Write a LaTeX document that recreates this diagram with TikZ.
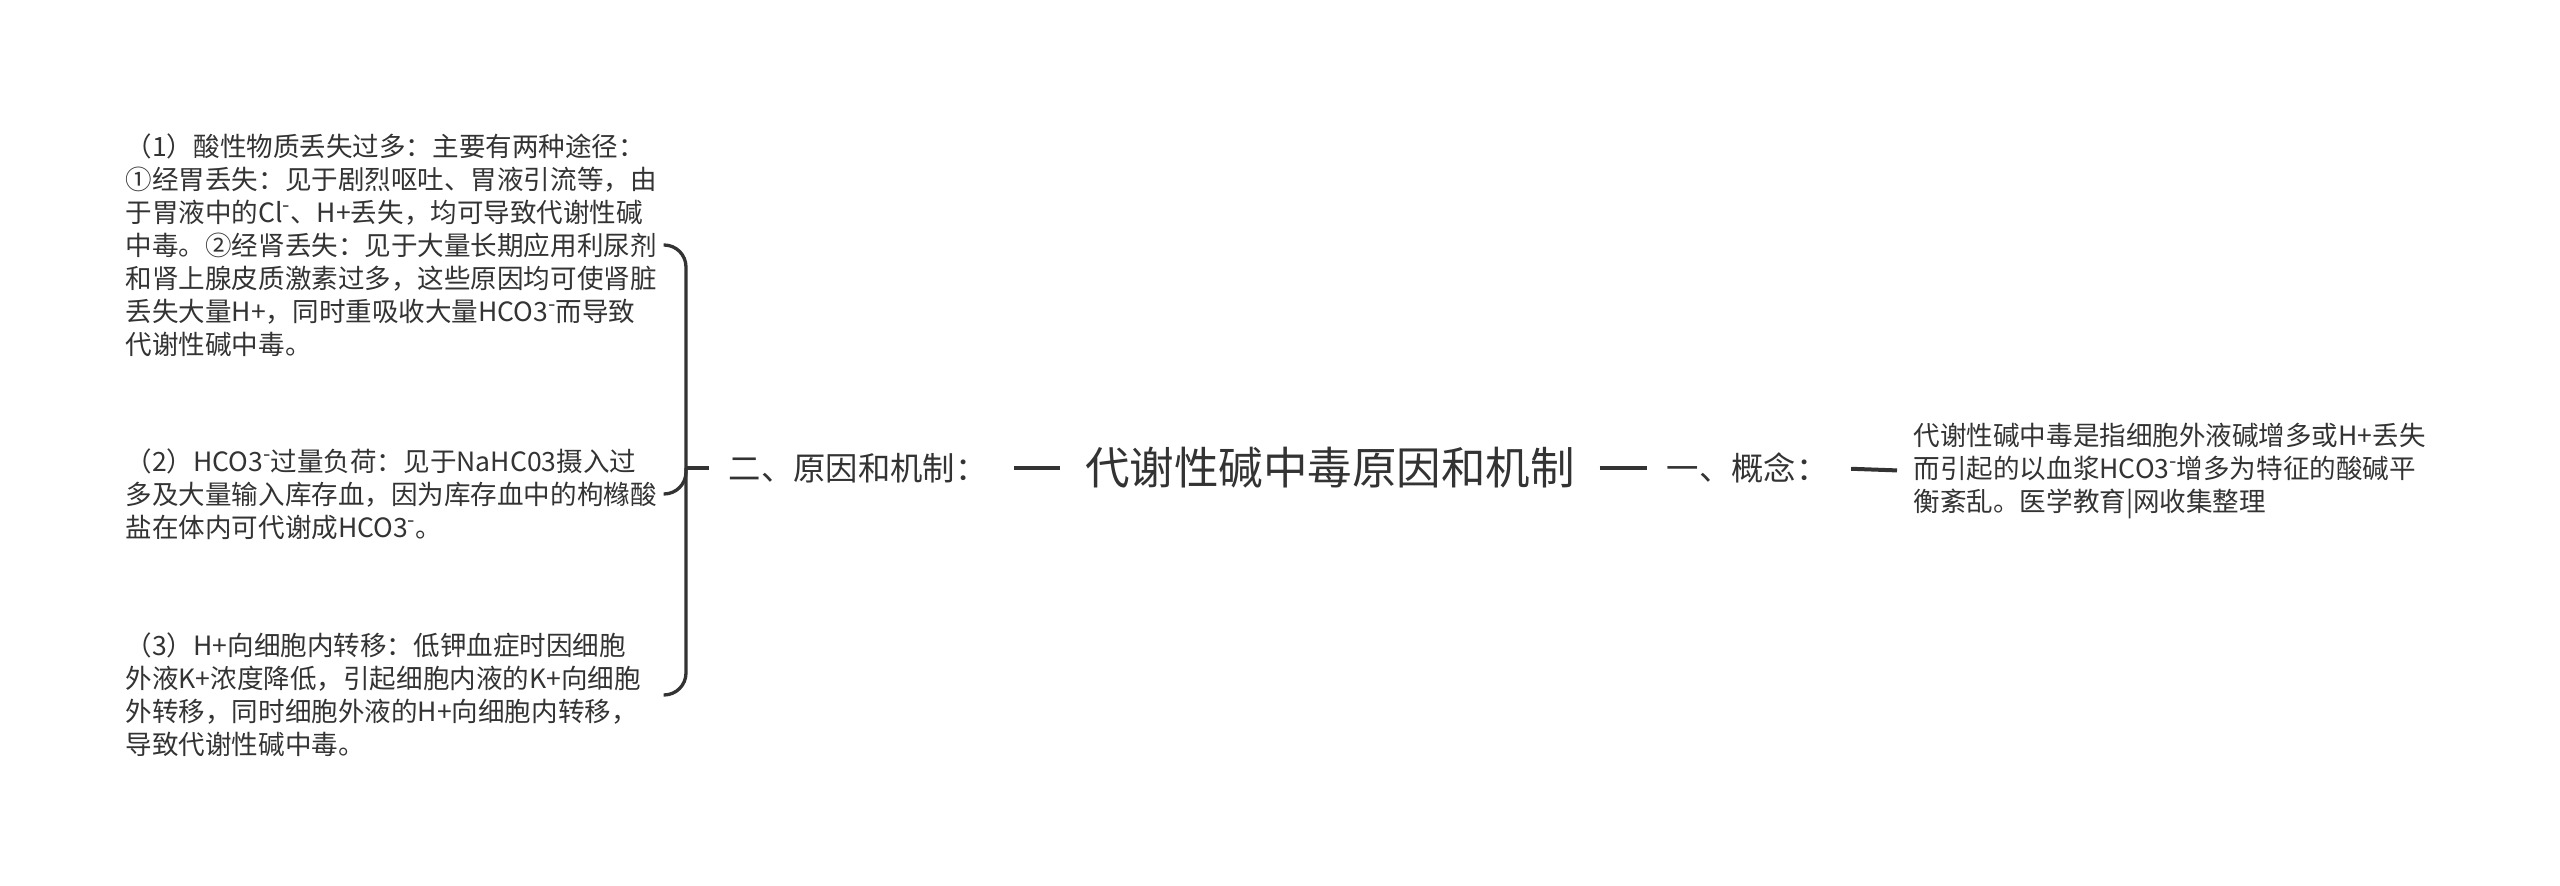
\documentclass[tikz,border=0pt]{standalone}
\usepackage{fontspec}
\setmainfont{Noto Sans CJK SC}
\usepackage{xcolor}
\usetikzlibrary{positioning,calc}
\definecolor{ink}{HTML}{333333}
\newcommand\ionbar{\raisebox{0.36em}{\scalebox{0.8}{-}}}

\begin{document}
\begin{tikzpicture}[x=0.01cm, y=-0.01cm,
    leaf/.style={anchor=west, inner sep=0, text width=5.37cm, align=left, text=ink,
      font=\fontsize{7.55pt}{9.39pt}\selectfont},
    topic/.style={inner sep=0, text=ink, font=\fontsize{9.2pt}{10.5pt}\selectfont},
    brace/.style={draw=ink, line width=0.033cm, rounded corners=0.22cm},
    dashline/.style={draw=ink, line width=0.04cm}]
    \useasboundingbox (0,0) rectangle (2560,886);
    \node [topic, font=\fontsize{12.66pt}{14pt}\selectfont] (main) at (1330,468) {代谢性碱中毒原因和机制}; % root
    \node [topic, anchor=west] (cause) at (728,468) {二、原因和机制：};
    \node [topic, anchor=west] (idea) at (1666,468) {一、概念：};
    \node [leaf] (def) at (1913,471) {代谢性碱中毒是指细胞外液碱增多或H+丢失\\
      而引起的以血浆HCO3\ionbar 增多为特征的酸碱平\\
      衡紊乱。医学教育|网收集整理};
    \node [leaf] (acid) at (125,245) {（1）酸性物质丢失过多：主要有两种途径：\\
      ①经胃丢失：见于剧烈呕吐、胃液引流等，由\\
      于胃液中的Cl\ionbar 、H+丢失，均可导致代谢性碱\\
      中毒。②经肾丢失：见于大量长期应用利尿剂\\
      和肾上腺皮质激素过多，这些原因均可使肾脏\\
      丢失大量H+，同时重吸收大量HCO3\ionbar 而导致\\
      代谢性碱中毒。};
    \node [leaf] (load) at (125,494) {（2）HCO3\ionbar 过量负荷：见于NaHC03摄入过\\
      多及大量输入库存血，因为库存血中的枸橼酸\\
      盐在体内可代谢成HCO3\ionbar 。};
    \node [leaf] (shift) at (125,695) {（3）H+向细胞内转移：低钾血症时因细胞\\
      外液K+浓度降低，引起细胞内液的K+向细胞\\
      外转移，同时细胞外液的H+向细胞内转移，\\
      导致代谢性碱中毒。};
    % connectors
    \coordinate (jn) at (686,468);
    \draw [brace] (acid.east) -| (jn) |- (shift.east);
    \draw [brace] (jn) |- (load.east);
    \draw [brace, shorten >=0.19cm] (jn) -- (cause.west);
    \draw [dashline, shorten <=0.26cm, shorten >=0.24cm] (cause.east) -- (main.west);
    \draw [dashline, shorten <=0.24cm, shorten >=0.19cm] (main.east) -- (idea.west);
    \draw [dashline, shorten <=0.22cm, shorten >=0.16cm] (idea.east) -- (def.west);
\end{tikzpicture}
\end{document}
